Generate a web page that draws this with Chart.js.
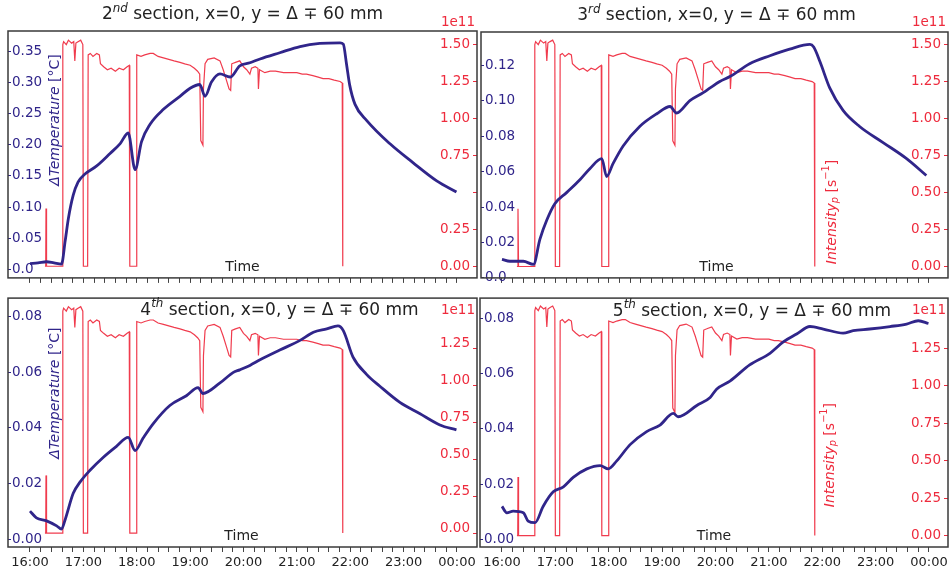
<!DOCTYPE html>
<html>
<head>
<meta charset="utf-8">
<script src="https://cdn.jsdelivr.net/npm/chart.js@4.4.0/dist/chart.umd.min.js"></script>
<style>
body { margin: 0; background: #fff; }
#wrap { position: relative; width: 951px; height: 573px; overflow: hidden; background: #fff; }
canvas { position: absolute; }
</style>
</head>
<body>
<div id="wrap">
  <canvas id="c2" width="479" height="290" style="left:0px;top:0px"></canvas>
  <canvas id="c3" width="472" height="290" style="left:479px;top:0px"></canvas>
  <canvas id="c4" width="479" height="287" style="left:0px;top:286px"></canvas>
  <canvas id="c5" width="472" height="287" style="left:479px;top:286px"></canvas>
</div>
<script>
const FONT = 'DejaVu Sans';
const BLUE = '#30258a';
const RED = '#ee2b3d';

// time axis (hours, 24 = midnight)
const hourTicks = [16, 17, 18, 19, 20, 21, 22, 23, 24];
const hourLabels = ['16:00', '17:00', '18:00', '19:00', '20:00', '21:00', '22:00', '23:00', '00:00'];

// beam intensity, same run for every section (units of 1e11 s^-1)
const intTime = [
  16.28, 16.295, 16.30, 16.31, 16.32, 16.60, 16.615, 16.63, 16.68, 16.72,
  16.78, 16.82, 16.84, 16.86, 16.90, 16.95, 16.99, 17.00, 17.08, 17.09,
  17.13, 17.18, 17.25, 17.30, 17.32, 17.38, 17.45, 17.52, 17.60, 17.67,
  17.75, 17.82, 17.86, 17.87, 17.99, 18.00, 18.08, 18.15, 18.25, 18.31,
  18.40, 18.50, 18.60, 18.70, 18.81, 18.90, 19.00, 19.08, 19.14, 19.18,
  19.20, 19.24, 19.25, 19.28, 19.33, 19.45, 19.56, 19.62, 19.68, 19.73,
  19.76, 19.78, 19.85, 19.93, 20.00, 20.06, 20.12, 20.15, 20.22, 20.27,
  20.28, 20.30, 20.40, 20.50, 20.60, 20.75, 20.87, 21.00, 21.10, 21.18,
  21.30, 21.40, 21.49, 21.60, 21.70, 21.81, 21.85, 21.86
];
const intVal = [
  0, 0, 0.39, 0, 0, 0, 1.50, 1.52, 1.50, 1.53,
  1.51, 1.52, 1.39, 1.51, 1.52, 1.53, 1.50, 0, 0, 1.43,
  1.44, 1.42, 1.44, 1.43, 1.37, 1.35, 1.33, 1.34, 1.32, 1.34,
  1.33, 1.35, 1.36, 0, 0, 1.43, 1.42, 1.43, 1.44, 1.44,
  1.42, 1.41, 1.40, 1.39, 1.38, 1.37, 1.36, 1.34, 1.32, 1.30,
  0.85, 0.82, 1.20, 1.37, 1.40, 1.41, 1.39, 1.33, 1.26, 1.20,
  1.19, 1.37, 1.38, 1.39, 1.35, 1.33, 1.30, 1.34, 1.35, 1.34,
  1.20, 1.33, 1.31, 1.32, 1.32, 1.31, 1.31, 1.31, 1.30, 1.30,
  1.29, 1.28, 1.27, 1.27, 1.26, 1.25, 1.24, 0
];

// delta temperature per section
const time2 = [16.00, 16.15, 16.31, 16.45, 16.59, 16.66, 16.72, 16.81, 16.90, 17.03, 17.25, 17.50, 17.69, 17.84, 17.97, 18.09, 18.25, 18.50, 18.81, 19.00, 19.18, 19.28, 19.40, 19.56, 19.75, 19.93, 20.12, 20.31, 20.68, 21.06, 21.43, 21.81, 21.87, 21.93, 21.99, 22.09, 22.31, 22.74, 23.18, 23.62, 23.99];
const temp2 = [0.009, 0.010, 0.012, 0.010, 0.008, 0.046, 0.082, 0.119, 0.140, 0.153, 0.166, 0.186, 0.202, 0.219, 0.160, 0.205, 0.233, 0.257, 0.278, 0.291, 0.297, 0.278, 0.301, 0.314, 0.309, 0.327, 0.332, 0.338, 0.348, 0.358, 0.363, 0.364, 0.362, 0.330, 0.296, 0.265, 0.239, 0.202, 0.171, 0.142, 0.124];

const time3 = [16.00, 16.15, 16.40, 16.59, 16.71, 16.84, 16.99, 17.21, 17.46, 17.65, 17.87, 17.96, 18.08, 18.27, 18.58, 18.90, 19.15, 19.27, 19.52, 19.77, 19.90, 20.08, 20.27, 20.64, 21.02, 21.39, 21.77, 21.84, 21.96, 22.14, 22.39, 22.70, 23.14, 23.58, 23.95];
const temp3 = [0.0105, 0.0094, 0.0094, 0.0076, 0.0218, 0.0327, 0.0419, 0.0482, 0.0555, 0.0619, 0.0674, 0.0573, 0.0646, 0.0746, 0.0856, 0.0928, 0.0969, 0.0932, 0.1002, 0.1047, 0.1074, 0.1110, 0.1138, 0.1211, 0.1256, 0.1293, 0.1320, 0.1305, 0.1220, 0.1074, 0.0947, 0.0856, 0.0765, 0.0674, 0.0579];

const time4 = [16.00, 16.12, 16.31, 16.50, 16.59, 16.66, 16.81, 16.94, 17.12, 17.37, 17.62, 17.84, 17.97, 18.12, 18.31, 18.62, 18.93, 19.15, 19.24, 19.56, 19.81, 19.93, 20.12, 20.31, 20.68, 21.06, 21.31, 21.56, 21.77, 21.87, 22.05, 22.31, 22.55, 22.93, 23.30, 23.68, 23.99];
const temp4 = [0.0101, 0.0077, 0.0066, 0.0048, 0.0036, 0.0071, 0.0165, 0.0206, 0.0247, 0.0294, 0.0334, 0.0366, 0.0319, 0.0364, 0.0416, 0.0481, 0.0516, 0.0545, 0.0524, 0.0562, 0.0600, 0.0609, 0.0625, 0.0645, 0.0680, 0.0715, 0.0744, 0.0756, 0.0767, 0.0750, 0.0656, 0.0592, 0.0551, 0.0492, 0.0452, 0.0411, 0.0393];

const time5 = [16.00, 16.09, 16.21, 16.40, 16.49, 16.62, 16.77, 16.96, 17.15, 17.34, 17.59, 17.84, 17.99, 18.15, 18.40, 18.71, 18.96, 19.21, 19.30, 19.65, 19.90, 20.02, 20.27, 20.64, 21.02, 21.27, 21.52, 21.77, 22.02, 22.39, 22.58, 22.89, 23.27, 23.58, 23.80, 23.99];
const temp5 = [0.0119, 0.0096, 0.0102, 0.0096, 0.0066, 0.0060, 0.0119, 0.0172, 0.0190, 0.0225, 0.0255, 0.0267, 0.0255, 0.0284, 0.0343, 0.0390, 0.0414, 0.0456, 0.0444, 0.0485, 0.0514, 0.0544, 0.0573, 0.0632, 0.0674, 0.0715, 0.0744, 0.0771, 0.0762, 0.0747, 0.0756, 0.0762, 0.0771, 0.0780, 0.0792, 0.0782];

// tick labels
const tempTicks2 = [0, 0.05, 0.10, 0.15, 0.20, 0.25, 0.30, 0.35];
const tempLabels2 = ['0.0', '0.05', '0.10', '0.15', '0.20', '0.25', '0.30', '0.35'];
const tempTicks3 = [0, 0.02, 0.04, 0.06, 0.08, 0.10, 0.12];
const tempLabels3 = ['0.0', '0.02', '0.04', '0.06', '0.08', '0.10', '0.12'];
const tempTicks45 = [0, 0.02, 0.04, 0.06, 0.08];
const tempLabels45 = ['0.00', '0.02', '0.04', '0.06', '0.08'];
const intTicksTop = [0, 0.25, 0.5, 0.75, 1.0, 1.25, 1.5];
const intLabels2 = ['0.00', '0.25', '', '0.75', '1.00', '1.25', '1.50'];
const intLabels3 = ['0.00', '0.25', '0.50', '0.75', '1.00', '1.25', '1.50'];
const intTicksBottom = [0, 0.25, 0.5, 0.75, 1.0, 1.25];
const intLabelsBottom = ['0.00', '0.25', '0.50', '0.75', '1.00', '1.25'];

const tempTitle = [{ t: 'ΔTemperature', it: true }, { t: ' [°C]' }];
const intTitle = [{ t: 'Intensity', it: true }, { t: 'p', it: true, sub: true }, { t: ' [s' }, { t: '−1', sup: true }, { t: ']' }];
function sectionTitle(n, suf) {
  return [{ t: n }, { t: suf, it: true, sup: true }, { t: ' section, x=0, y = Δ ∓ 60 mm' }];
}

function pts(ts, vs) {
  return ts.map((t, i) => ({ x: t, y: vs[i] }));
}

function drawParts(ctx, parts, x, y, size, color, align) {
  let w = 0;
  const list = parts.map(q => {
    const s = (q.sup || q.sub) ? size * 0.7 : size;
    const font = (q.it ? 'italic ' : '') + s + 'px "' + FONT + '"';
    ctx.font = font;
    const qw = ctx.measureText(q.t).width;
    w += qw;
    return { q, font, qw };
  });
  let cx = align === 'right' ? x - w : x - w / 2;
  ctx.fillStyle = color;
  ctx.textBaseline = 'middle';
  ctx.textAlign = 'left';
  list.forEach(({ q, font, qw }) => {
    ctx.font = font;
    const dy = q.sup ? -size * 0.38 : (q.sub ? size * 0.28 : 0);
    ctx.fillText(q.t, cx, y + dy);
    cx += qw;
  });
}

function overlay(p) {
  return {
    id: 'overlay_' + p.id,
    afterDraw(chart) {
      const ctx = chart.ctx;
      const a = chart.chartArea;
      const mid = (a.left + a.right) / 2;
      ctx.save();
      // frame
      ctx.strokeStyle = '#3a3a3a';
      ctx.lineWidth = 1.5;
      ctx.strokeRect(a.left, a.top, a.right - a.left, a.bottom - a.top);
      // title
      drawParts(ctx, p.title, mid + p.titleDx, a.top + p.titleDy, 17, '#222');
      // 1e11 offset label
      drawParts(ctx, [{ t: '1e11' }], a.right - 2, a.top + p.expDy, 13.5, RED, 'right');
      // Time label
      drawParts(ctx, [{ t: 'Time' }], mid + p.timeDx, a.bottom - 11, 14, '#222');
      // axis titles sitting inside the frame
      if (p.yTitle) {
        ctx.save();
        ctx.translate(a.left + p.yTitle.dx, a.top + p.yTitle.dy);
        ctx.rotate(-Math.PI / 2);
        drawParts(ctx, p.yTitle.parts, 0, 0, 14, p.yTitle.color);
        ctx.restore();
      }
      ctx.restore();
    }
  };
}

const minorTicks = [];
for (let k = 0; k <= 40; k++) minorTicks.push(16 + k * 0.2);

function makePanel(p) {
  new Chart(document.getElementById(p.id), {
    type: 'line',
    data: {
      datasets: [
        { data: pts(p.time, p.temp), yAxisID: 'y', borderColor: BLUE, borderWidth: 2.8, pointRadius: 0, cubicInterpolationMode: 'monotone', order: 1 },
        { data: pts(intTime, intVal), yAxisID: 'y2', borderColor: 'rgba(238,38,58,0.9)', borderWidth: 1.2, pointRadius: 0, tension: 0, order: 2 }
      ]
    },
    options: {
      responsive: false,
      animation: false,
      events: [],
      layout: { padding: p.pad },
      plugins: { legend: { display: false }, tooltip: { enabled: false } },
      scales: {
        x: {
          type: 'linear', min: p.xMin, max: p.xMax,
          afterFit(s) { s.height = p.xH; },
          afterBuildTicks(s) { s.ticks = minorTicks.map(v => ({ value: v })); },
          grid: { drawOnChartArea: false, tickLength: 5, color: '#444' },
          border: { display: false },
          ticks: {
            autoSkip: false, maxRotation: 0, padding: 3, color: '#222',
            font: { family: FONT, size: 13 },
            callback(v) {
              if (!p.xLabels) return '';
              const i = hourTicks.findIndex(h => Math.abs(h - v) < 1e-6);
              return i < 0 ? '' : hourLabels[i];
            }
          }
        },
        y: {
          position: 'left', min: p.yMin, max: p.yMax,
          afterFit(s) { s.width = 0; },
          afterBuildTicks(s) { s.ticks = p.yTicks.map(v => ({ value: v })); },
          grid: { drawOnChartArea: false, tickLength: -3, color: BLUE },
          border: { display: false },
          ticks: {
            mirror: true, autoSkip: false, padding: 4, color: BLUE,
            font: { family: FONT, size: 13.5 },
            callback(v, i) { return p.yLabels[i]; }
          }
        },
        y2: {
          position: 'right', min: p.y2Min, max: p.y2Max,
          afterFit(s) { s.width = 0; },
          afterBuildTicks(s) { s.ticks = p.y2Ticks.map(v => ({ value: v })); },
          grid: { drawOnChartArea: false, tickLength: -4, color: RED },
          border: { display: false },
          ticks: {
            mirror: true, autoSkip: false, padding: -7, color: RED, labelOffset: p.y2Offset,
            font: { family: FONT, size: 13.5 },
            callback(v, i) { return p.y2Labels[i]; }
          }
        }
      }
    },
    plugins: [overlay(p)]
  });
}

makePanel({
  id: 'c2', pad: { left: 8, top: 31, right: 2, bottom: 0 }, xH: 5, xLabels: false,
  xMin: 15.588, xMax: 24.375,
  time: time2, temp: temp2,
  yMin: -0.014, yMax: 0.383, yTicks: tempTicks2, yLabels: tempLabels2,
  y2Min: -0.079, y2Max: 1.592, y2Ticks: intTicksTop, y2Labels: intLabels2, y2Offset: 0,
  title: sectionTitle('2', 'nd'), titleDx: 0, titleDy: -16, expDy: -9, timeDx: 0,
  yTitle: { parts: tempTitle, color: BLUE, dx: 47, dy: 89 }
});
makePanel({
  id: 'c3', pad: { left: 2, top: 32, right: 3, bottom: 0 }, xH: 5, xLabels: false,
  xMin: 15.607, xMax: 24.356,
  time: time3, temp: temp3,
  yMin: 0, yMax: 0.139, yTicks: tempTicks3, yLabels: tempLabels3,
  y2Min: -0.077, y2Max: 1.585, y2Ticks: intTicksTop, y2Labels: intLabels3, y2Offset: 0,
  title: sectionTitle('3', 'rd'), titleDx: 2, titleDy: -16, expDy: -10, timeDx: 2,
  yTitle: { parts: intTitle, color: RED, dx: 351, dy: 180 }
});
makePanel({
  id: 'c4', pad: { left: 8, top: 6, right: 2, bottom: 0 }, xH: 26, xLabels: true,
  xMin: 15.588, xMax: 24.375,
  time: time4, temp: temp4,
  yMin: -0.0028, yMax: 0.0867, yTicks: tempTicks45, yLabels: tempLabels45,
  y2Min: -0.094, y2Max: 1.588, y2Ticks: intTicksBottom, y2Labels: intLabelsBottom, y2Offset: -5,
  title: sectionTitle('4', 'th'), titleDx: 37, titleDy: 12, expDy: 12, timeDx: -1,
  yTitle: { parts: tempTitle, color: BLUE, dx: 47, dy: 95 }
});
makePanel({
  id: 'c5', pad: { left: 1, top: 6, right: 3, bottom: 0 }, xH: 26, xLabels: true,
  xMin: 15.588, xMax: 24.356,
  time: time5, temp: temp5,
  yMin: -0.0028, yMax: 0.0874, yTicks: tempTicks45, yLabels: tempLabels45,
  y2Min: -0.076, y2Max: 1.583, y2Ticks: intTicksBottom, y2Labels: intLabelsBottom, y2Offset: 0,
  title: sectionTitle('5', 'th'), titleDx: 38, titleDy: 13, expDy: 12, timeDx: 0,
  yTitle: { parts: intTitle, color: RED, dx: 350, dy: 157 }
});
</script>
</body>
</html>
